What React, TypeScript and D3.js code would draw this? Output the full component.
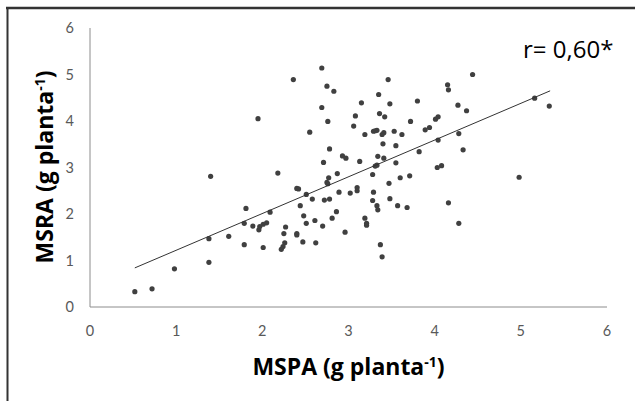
import React from "react";
import * as d3 from "d3";

const mspa = [0.52,0.72,0.98,1.38,1.38,1.40,1.61,1.79,1.79,1.81,1.89,1.96,1.97,2.01,2.05,2.01,2.09,2.27,2.25,2.26,2.24,2.22,2.44,2.48,2.51,2.61,2.40,2.40,2.47,2.62,2.40,2.42,2.51,2.58,2.70,2.72,2.78,2.75,2.76,2.18,2.69,2.36,2.75,2.69,2.76,1.95,2.55,2.78,2.71,2.77,2.83,3.46,3.35,3.15,3.48,3.36,3.42,3.08,3.06,3.72,3.29,3.31,3.33,3.19,3.39,3.41,3.53,3.62,3.40,3.55,2.93,2.97,3.13,3.34,3.41,3.55,3.31,3.33,3.28,2.87,3.60,3.71,3.47,3.10,3.10,2.89,3.02,3.29,3.28,3.48,3.33,3.34,3.57,3.68,2.86,2.81,3.19,3.21,3.21,2.96,3.37,3.39,4.44,4.15,4.16,3.80,4.27,4.37,5.16,5.33,4.01,4.04,3.89,3.94,4.28,4.04,3.82,4.33,4.03,4.08,4.98,4.16,4.28];
const msra = [0.33,0.39,0.82,0.96,1.47,2.81,1.52,1.80,1.34,2.12,1.74,1.66,1.73,1.78,1.81,1.28,2.04,1.72,1.58,1.38,1.30,1.24,2.18,1.96,1.80,1.86,1.58,1.55,1.40,1.38,2.55,2.54,2.42,2.32,1.74,2.30,2.32,2.68,2.65,2.88,5.14,4.89,4.75,4.29,3.99,4.05,3.76,3.40,3.11,2.78,4.64,4.89,4.57,4.39,4.37,4.16,4.09,4.11,3.89,3.99,3.78,3.79,3.80,3.71,3.71,3.75,3.78,3.71,3.51,3.47,3.25,3.20,3.13,3.24,3.20,3.10,3.03,3.05,2.85,2.87,2.78,2.82,2.66,2.57,2.50,2.47,2.45,2.47,2.29,2.33,2.18,2.09,2.18,2.14,2.05,1.91,1.91,1.80,1.76,1.61,1.34,1.08,5.00,4.78,4.67,4.43,4.34,4.22,4.49,4.32,4.04,4.09,3.81,3.86,3.73,3.59,3.34,3.38,3.00,3.04,2.79,2.24,1.80];

const xTicks = [0, 1, 2, 3, 4, 5, 6];
const yTicks = [0, 1, 2, 3, 4, 5, 6];
const trendRange = [0.52, 5.34];
const trendSlope = 0.79;
const trendIntercept = 0.43;
const rLabel = "r= 0,60*";

const FONT = "Lato, 'Open Sans', sans-serif";
const TFONT = "'Open Sans', Lato, sans-serif";

export default function App() {
  const W = 635, H = 401;
  const x = d3.scaleLinear().domain([0, 6]).range([90, 607]);
  const y = d3.scaleLinear().domain([0, 6]).range([307, 28]);
  const pts = mspa.map((v, i) => [v, msra[i]] as [number, number]);
  const trend = d3.line<number>().x((d) => x(d)).y((d) => y(trendSlope * d + trendIntercept));

  return (
    <svg width={W} height={H} style={{ position: "absolute", left: 0, top: 0, background: "#fff" }} fontFamily={FONT}>
      <rect x={0} y={0} width={W} height={H} fill="#fff" />
      {/* borders */}
      <line x1={6} x2={W} y1={8} y2={8} stroke="#333" strokeWidth={2.5} />
      <line x1={7.5} x2={7.5} y1={7} y2={H} stroke="#333" strokeWidth={2} />
      {/* axes */}
      <line x1={x(0)} x2={x(6)} y1={y(0)} y2={y(0)} stroke="#8c8c8c" strokeWidth={1} />
      <line x1={x(0)} x2={x(0)} y1={y(0)} y2={y(6)} stroke="#8c8c8c" strokeWidth={1} />
      {yTicks.map((t) => (
        <text key={"y" + t} x={74} y={y(t)} dy="0.36em" textAnchor="end" fontSize={14.5} fill="#595959">{t}</text>
      ))}
      {xTicks.map((t) => (
        <text key={"x" + t} x={x(t)} y={336} textAnchor="middle" fontSize={14.5} fill="#595959">{t}</text>
      ))}
      {/* points */}
      {pts.map((p, i) => (
        <circle key={i} cx={x(p[0])} cy={y(p[1])} r={2.6} fill="#404040" />
      ))}
      {/* trend */}
      <path d={trend(trendRange) || ""} stroke="#333" strokeWidth={1} fill="none" />
      <text x={523} y={58} fontSize={24} fill="#000" fontFamily={TFONT}>{rLabel}</text>
      {/* titles */}
      <text x={348.5} y={375} textAnchor="middle" fontSize={23} fontWeight="bold" fill="#000" fontFamily={TFONT}>
        MSPA (g planta<tspan dy={-8} fontSize={14}>-1</tspan><tspan dy={8}>)</tspan>
      </text>
      <text transform="translate(53,167) rotate(-90)" textAnchor="middle" fontSize={23} fontWeight="bold" fill="#000" fontFamily={TFONT}>
        MSRA (g planta<tspan dy={-8} fontSize={14}>-1</tspan><tspan dy={8}>)</tspan>
      </text>
    </svg>
  );
}
